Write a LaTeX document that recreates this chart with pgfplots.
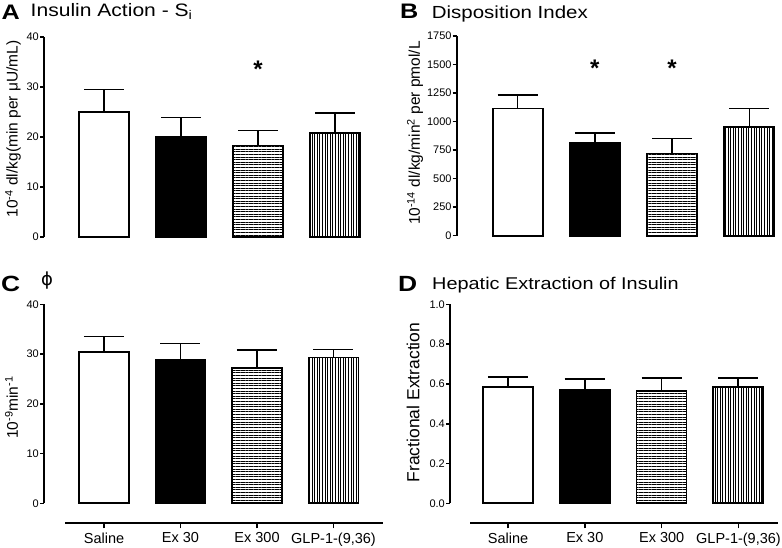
\documentclass[border=0pt]{standalone}
\usepackage{fontspec}
\setmainfont{Liberation Sans}
\newfontfamily\titlefont[FakeStretch=1.17]{Liberation Sans}
\newfontfamily\letterfont[FakeStretch=1.2]{Liberation Sans}
\newfontfamily\dejavu{DejaVu Sans}
\usepackage{pgfplots}
\pgfplotsset{compat=1.18}
\usetikzlibrary{patterns.meta}

\tikzset{starnode/.style={anchor=base, font=\bfseries\fontsize{24}{24}\selectfont, inner sep=0pt}}
\pgfplotsset{
  panel/.style={
    scale only axis, anchor=south west,
    axis y line=left, axis x line=none,
    axis line style={-, line width=2pt},
    ybar, bar width=50pt, bar shift=0pt, ymin=0,
    tick align=outside, major tick length=4pt,
    ytick style={line width=1.6pt, black},
    yticklabel style={font=\fontsize{11}{11}\selectfont, inner xsep=1pt},
    xtick=\empty, clip=false,
    every axis plot/.append style={draw=black, line width=1.8pt, bar shift=0pt},
    error bars/y dir=plus, error bars/y explicit,
    error bars/error mark=|,
    error bars/error bar style={line width=1.6pt, black, solid},
    error bars/error mark options={line width=1.6pt, mark size=20pt, black},
  },
  xpanel/.style={
    scale only axis, anchor=south west, height=10pt,
    ymin=0, ymax=1, hide y axis,
    axis x line=bottom, axis line style={-, line width=2pt},
    tick align=outside, major tick length=5pt,
    xtick style={line width=1.6pt, black},
    xtick={0,1,2,3},
    xticklabels={Saline, Ex 30, Ex 300, {GLP-1-(9,36)}},
    xticklabel style={font=\fontsize{14.5}{15}\selectfont, inner ysep=4pt},
  },
  hpat/.style={pattern={Lines[angle=0,distance=2.6pt,line width=0.7pt]}, pattern color=black},
  vpat/.style={pattern={Lines[angle=90,distance=2.6pt,line width=0.7pt]}, pattern color=black},
}

\begin{document}
\begin{tikzpicture}[x=1pt,y=1pt]
\useasboundingbox (0,0) rectangle (782,547);

% Panel A
\begin{axis}[panel, at={(44pt,310pt)}, width=329.6pt, height=200pt,
  xmin=-0.78, xmax=3.5, ymax=40,
  ytick={0,10,20,30,40}, yticklabels={0,10,20,30,40}]
\addplot[fill=white] coordinates {(0,25.06) +- (0,4.4)};
\addplot[fill=black] coordinates {(1,20.0) +- (0,3.9)};
\addplot[fill=white, hpat] coordinates {(2,18.3) +- (0,3.0)};
\addplot[fill=white, vpat] coordinates {(3,20.8) +- (0,4.0)};
\node[starnode] at (axis cs:2,31.8) {*};
\end{axis}

% Panel B
\begin{axis}[panel, at={(456.7pt,311.3pt)}, width=323.5pt, height=199.7pt,
  xmin=-0.79, xmax=3.4, ymax=1750,
  ytick={0,250,500,750,1000,1250,1500,1750},
  yticklabels={0,250,500,750,1000,1250,1500,1750}]
\addplot[fill=white] coordinates {(0,1115) +- (0,116)};
\addplot[fill=black] coordinates {(1,814) +- (0,87)};
\addplot[fill=white, hpat] coordinates {(2,721) +- (0,131)};
\addplot[fill=white, vpat] coordinates {(3,954) +- (0,161)};
\node[starnode] at (axis cs:1,1395) {*};
\node[starnode] at (axis cs:2,1395) {*};
\end{axis}

% Panel C
\begin{axis}[panel, at={(44pt,43.7pt)}, width=327.7pt, height=199pt,
  xmin=-0.784, xmax=3.5, ymax=40,
  ytick={0,10,20,30,40}, yticklabels={0,10,20,30,40}]
\addplot[fill=white] coordinates {(0,30.4) +- (0,3.1)};
\addplot[fill=black] coordinates {(1,28.9) +- (0,3.2)};
\addplot[fill=white, hpat] coordinates {(2,27.2) +- (0,3.6)};
\addplot[fill=white, vpat] coordinates {(3,29.3) +- (0,1.6)};
\end{axis}
\begin{axis}[xpanel, at={(65pt,23.7pt)}, width=318pt, xmin=-0.51, xmax=3.647]
\end{axis}

% Panel D
\begin{axis}[panel, at={(450pt,43.7pt)}, width=319pt, height=199pt,
  xmin=-0.755, xmax=3.4, ymax=1,
  ytick={0,0.2,0.4,0.6,0.8,1}, yticklabels={0.0,0.2,0.4,0.6,0.8,1.0}]
\addplot[fill=white] coordinates {(0,0.583) +- (0,0.053)};
\addplot[fill=black] coordinates {(1,0.569) +- (0,0.057)};
\addplot[fill=white, hpat] coordinates {(2,0.564) +- (0,0.066)};
\addplot[fill=white, vpat] coordinates {(3,0.583) +- (0,0.048)};
\end{axis}
\begin{axis}[xpanel, at={(470pt,23.7pt)}, width=308.4pt, xmin=-0.495, xmax=3.52]
\end{axis}

% Titles and letters
\node[anchor=base west, inner sep=0pt, font=\letterfont\bfseries\fontsize{21}{21}\selectfont] at (1.5,527) {A};
\node[anchor=base west, inner sep=0pt, font=\titlefont\fontsize{18}{18}\selectfont] at (30.5,530.3) {Insulin Action - S\textsubscript{i}};
\node[anchor=base west, inner sep=0pt, font=\letterfont\bfseries\fontsize{21}{21}\selectfont] at (400,528.5) {B};
\node[anchor=base west, inner sep=0pt, font=\titlefont\fontsize{17.5}{18}\selectfont] at (431.7,528.7) {Disposition Index};
\node[anchor=base west, inner sep=0pt, font=\letterfont\bfseries\fontsize{22}{22}\selectfont] at (1,255) {C};
\node[inner sep=0pt, font=\dejavu\fontsize{18}{18}\selectfont] at (47,266) {ϕ};
\node[anchor=base west, inner sep=0pt, font=\letterfont\bfseries\fontsize{22}{22}\selectfont] at (398,255) {D};
\node[anchor=base west, inner sep=0pt, font=\titlefont\fontsize{17}{17}\selectfont] at (432,257.3) {Hepatic Extraction of Insulin};

% Y labels
\node[rotate=90, inner sep=0pt, font=\fontsize{15.5}{16}\selectfont] at (13,418) {10\textsuperscript{-4} dl/kg(min per μU/mL)};
\node[rotate=90, inner sep=0pt, font=\fontsize{15.5}{16}\selectfont] at (415,414) {10\textsuperscript{-14} dl/kg/min\textsuperscript{2} per pmol/L};
\node[rotate=90, inner sep=0pt, font=\fontsize{15.5}{16}\selectfont] at (11.5,139.5) {10\textsuperscript{-9}min\textsuperscript{-1}};
\node[rotate=90, inner sep=0pt, font=\fontsize{17.5}{18}\selectfont] at (413,144.5) {Fractional Extraction};
\end{tikzpicture}
\end{document}
